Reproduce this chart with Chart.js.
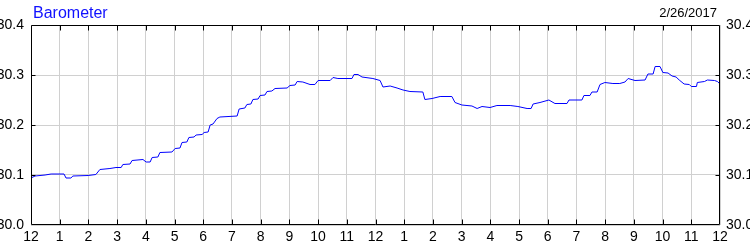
<!DOCTYPE html>
<html>
<head>
<meta charset="utf-8">
<script src="https://cdn.jsdelivr.net/npm/chart.js@4.4.1/dist/chart.umd.min.js"></script>
<style>
  html, body { margin: 0; padding: 0; background: #fff; }
  #wrap { width: 750px; height: 250px; }
</style>
</head>
<body>
<div id="wrap"><canvas id="c" width="750" height="250"></canvas></div>
<script>
// hours since midnight (0 = 12 AM, 24 = next 12 AM)
const hours = [
  0.00, 0.14, 0.49, 0.70, 1.15, 1.22, 1.39, 1.46, 1.99, 2.26,
  2.40, 2.75, 2.96, 3.14, 3.20, 3.45, 3.52, 3.90, 4.01, 4.15,
  4.22, 4.42, 4.49, 4.91, 5.02, 5.19, 5.26, 5.43, 5.50, 5.68,
  5.75, 5.96, 6.03, 6.17, 6.24, 6.34, 6.48, 6.58, 7.18, 7.25,
  7.45, 7.52, 7.66, 7.73, 7.91, 7.98, 8.15, 8.22, 8.39, 8.50,
  8.92, 9.02, 9.20, 9.27, 9.47, 9.72, 9.89, 10.00, 10.42, 10.52,
  10.69, 11.18, 11.25, 11.39, 11.53, 11.91, 12.16, 12.26, 12.51, 12.75,
  12.96, 13.20, 13.65, 13.72, 13.97, 14.25, 14.66, 14.77, 15.01, 15.36,
  15.54, 15.71, 15.99, 16.23, 16.69, 16.96, 17.28, 17.42, 17.49, 17.73,
  18.04, 18.25, 18.67, 18.74, 19.19, 19.26, 19.47, 19.54, 19.72, 19.82,
  19.99, 20.27, 20.51, 20.69, 20.80, 21.04, 21.39, 21.49, 21.67, 21.74,
  21.91, 22.01, 22.19, 22.33, 22.47, 22.58, 22.75, 22.93, 23.00, 23.18,
  23.21, 23.46, 23.56, 23.81, 23.91, 24.00
];

const pressure = [
  30.094, 30.098, 30.100, 30.102, 30.102, 30.094, 30.094, 30.098, 30.099, 30.101,
  30.111, 30.113, 30.115, 30.115, 30.121, 30.122, 30.129, 30.131, 30.126, 30.126,
  30.135, 30.136, 30.145, 30.146, 30.153, 30.154, 30.165, 30.166, 30.175, 30.176,
  30.180, 30.181, 30.185, 30.186, 30.200, 30.202, 30.213, 30.216, 30.218, 30.232,
  30.234, 30.241, 30.242, 30.251, 30.252, 30.259, 30.260, 30.267, 30.268, 30.273,
  30.274, 30.279, 30.280, 30.287, 30.286, 30.281, 30.281, 30.289, 30.289, 30.295,
  30.293, 30.293, 30.301, 30.301, 30.296, 30.293, 30.289, 30.276, 30.278, 30.274,
  30.270, 30.267, 30.266, 30.251, 30.253, 30.257, 30.257, 30.245, 30.240, 30.238,
  30.233, 30.237, 30.235, 30.239, 30.239, 30.237, 30.233, 30.233, 30.242, 30.245,
  30.250, 30.243, 30.243, 30.250, 30.250, 30.259, 30.259, 30.266, 30.266, 30.281,
  30.285, 30.283, 30.283, 30.286, 30.293, 30.289, 30.290, 30.302, 30.302, 30.317,
  30.317, 30.305, 30.304, 30.298, 30.296, 30.290, 30.282, 30.281, 30.277, 30.277,
  30.285, 30.287, 30.290, 30.289, 30.287, 30.282
];

const yMin = 30.0, yMax = 30.4;
const titleText = 'Barometer';
const dateText = '2/26/2017';

function hourLabel(h){
  const v = h % 12;
  return v === 0 ? '12' : String(v);
}

// frame, inward tick marks, title and date
const framePlugin = {
  id: 'frame',
  afterDatasetsDraw(chart){
    const ctx = chart.ctx, a = chart.chartArea;
    const L = Math.round(a.left) + 0.5, R = Math.round(a.right) - 0.5;
    const T = Math.round(a.top) + 0.5, B = Math.round(a.bottom) - 0.5;
    ctx.save();
    ctx.strokeStyle = '#000';
    ctx.lineWidth = 1;
    ctx.beginPath();
    const xs = chart.scales.x;
    for (let h = 1; h < 24; h++){
      const px = Math.round(xs.getPixelForValue(h)) + 0.5;
      ctx.moveTo(px, T); ctx.lineTo(px, T + 5);
      ctx.moveTo(px, B); ctx.lineTo(px, B - 5);
    }
    const ys = chart.scales.y;
    for (let i = 1; i < 4; i++){
      const py = Math.round(ys.getPixelForValue(yMin + i * 0.1)) + 0.5;
      ctx.moveTo(L, py); ctx.lineTo(L + 4, py);
      ctx.moveTo(R, py); ctx.lineTo(R - 4, py);
    }
    ctx.rect(L, T, R - L, B - T);
    ctx.stroke();

    ctx.font = '16px "Liberation Sans", Arial, sans-serif';
    ctx.fillStyle = '#1010ff';
    ctx.textBaseline = 'alphabetic';
    ctx.textAlign = 'left';
    ctx.fillText(titleText, a.left + 2, 18);
    ctx.font = '13px "Liberation Sans", Arial, sans-serif';
    ctx.fillStyle = '#000';
    ctx.textAlign = 'right';
    ctx.fillText(dateText, a.right - 3, 17);
    ctx.restore();
  }
};

const gridColor = '#d0d0d0';
const tickFont = { family: '"Liberation Sans", Arial, sans-serif', size: 14 };

new Chart(document.getElementById('c').getContext('2d'), {
  type: 'line',
  data: {
    datasets: [{
      label: 'Barometer',
      data: hours.map((h, i) => ({ x: h, y: pressure[i] })),
      borderColor: '#0000ff',
      borderWidth: 1,
      pointRadius: 0,
      tension: 0,
      fill: false
    }]
  },
  options: {
    responsive: false,
    animation: false,
    layout: { padding: { top: 25, left: 0, right: 0, bottom: 0 } },
    plugins: { legend: { display: false }, tooltip: { enabled: false }, title: { display: false } },
    scales: {
      x: {
        type: 'linear', position: 'bottom', min: 0, max: 24,
        border: { display: false },
        grid: { color: gridColor, drawTicks: false, tickLength: 0 },
        ticks: { stepSize: 1, autoSkip: false, maxRotation: 0, padding: 4,
                 color: '#000', font: tickFont, callback: v => hourLabel(v) },
        afterFit(s){ s.height = 25; }
      },
      y: {
        position: 'left', min: yMin, max: yMax,
        border: { display: false },
        grid: { color: gridColor, drawTicks: false, tickLength: 0 },
        ticks: { stepSize: 0.1, padding: 7, color: '#000', font: tickFont,
                 callback: v => Number(v).toFixed(1) },
        afterFit(s){ s.width = 31; }
      },
      y2: {
        position: 'right', min: yMin, max: yMax,
        border: { display: false },
        grid: { display: false, drawTicks: false, tickLength: 0 },
        ticks: { stepSize: 0.1, padding: 6, color: '#000', font: tickFont,
                 callback: v => Number(v).toFixed(1) },
        afterFit(s){ s.width = 30; }
      }
    }
  },
  plugins: [framePlugin]
});
</script>
</body>
</html>
